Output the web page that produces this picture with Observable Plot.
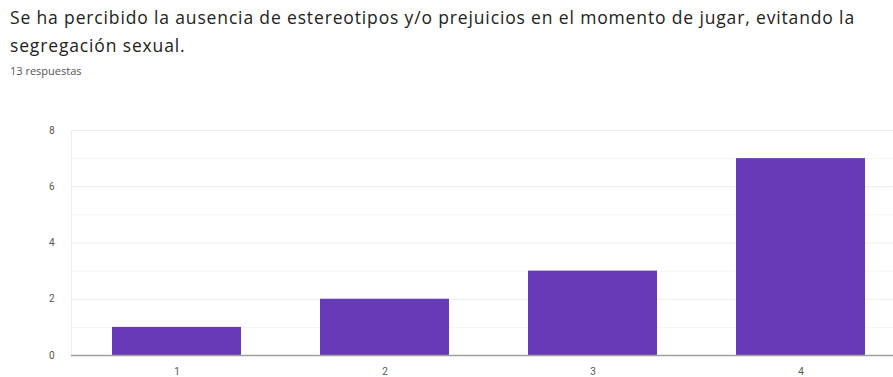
<!DOCTYPE html>
<html><head><meta charset="utf-8">
<script src="https://cdn.jsdelivr.net/npm/d3@7"></script>
<script src="https://cdn.jsdelivr.net/npm/@observablehq/plot@0.6"></script>
<style>
html,body{margin:0;padding:0;background:#fff;overflow:hidden;width:893px;height:377px;}
#title{position:absolute;left:10px;top:3px;font-family:"Open Sans",Roboto,sans-serif;font-size:17.5px;line-height:28px;color:#222;white-space:nowrap;}
#sub{position:absolute;left:10px;top:63px;font-family:"Open Sans",Roboto,sans-serif;font-size:11px;color:#555;}
#chart{position:absolute;left:0;top:100px;}
</style></head>
<body>
<div id="title"><span id="l1">Se ha percibido la ausencia de estereotipos y/o prejuicios en el momento de jugar, evitando la</span><br>segregación sexual.</div>
<div id="sub">13 respuestas</div>
<div id="chart"></div>
<script>
const categories = ["1", "2", "3", "4"];
const counts = [1, 2, 3, 7];
const majorTicks = [0, 2, 4, 6, 8];
const minorTicks = [1, 3, 5, 7];

// widen the title's first line to the reference width via letter spacing
const l1 = document.getElementById("l1");
const w = l1.getBoundingClientRect().width;
const n = l1.textContent.length;
document.getElementById("title").style.letterSpacing = ((845 - w) / n).toFixed(3) + "px";

const data = categories.map((c, i) => ({cat: c, n: counts[i]}));

const chart = Plot.plot({
  width: 905,
  height: 277,
  marginLeft: 71,
  marginRight: 0,
  marginTop: 30,
  marginBottom: 22,
  style: {fontFamily: "Roboto, sans-serif", fontSize: "10px", color: "#555", background: "#fff", maxWidth: "none"},
  x: {domain: categories, paddingInner: 0.38, paddingOuter: 0.19, label: null, tickSize: 0, tickPadding: 12},
  y: {domain: [0, 8], ticks: majorTicks, label: null, tickSize: 0, tickPadding: 17},
  marks: [
    Plot.frame({stroke: "#eeeeee"}),
    Plot.ruleY(minorTicks, {stroke: "#f4f4f4", strokeWidth: 1}),
    Plot.ruleY(majorTicks.filter(d => d > 0), {stroke: "#ebebeb", strokeWidth: 1}),
    Plot.barY(data, {x: "cat", y: "n", fill: "#673ab7"}),
    Plot.ruleY([0], {stroke: "#9e9e9e", strokeWidth: 1.5})
  ]
});
document.getElementById("chart").appendChild(chart);
</script>
</body></html>
